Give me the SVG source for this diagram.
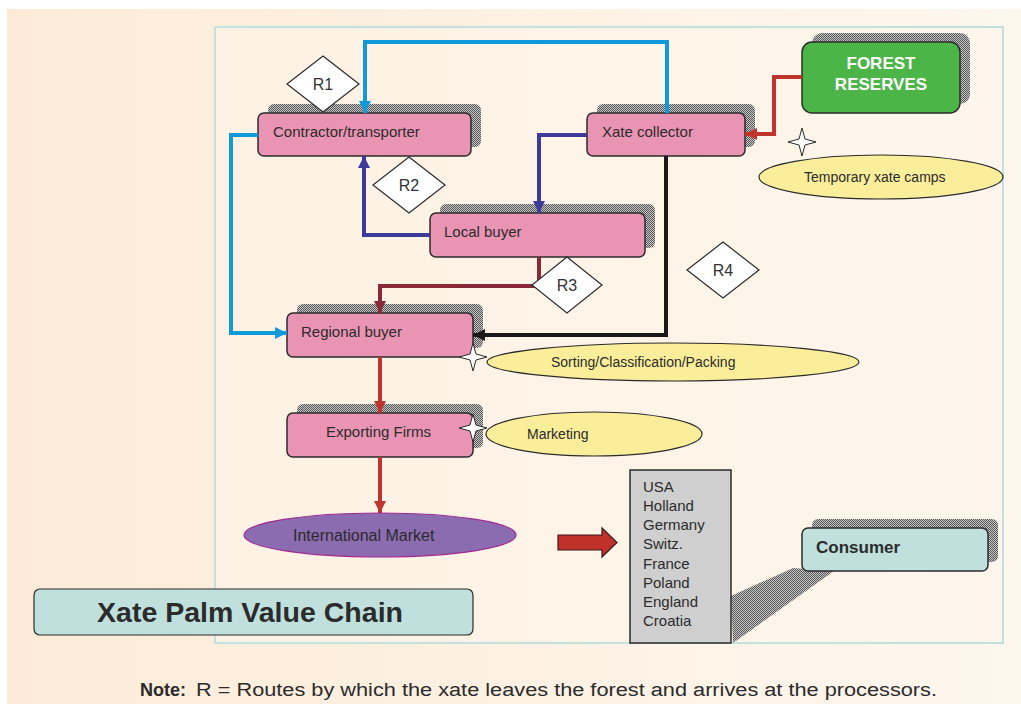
<svg xmlns="http://www.w3.org/2000/svg" width="1021" height="704" viewBox="0 0 1021 704">
<defs>
<linearGradient id="bg" x1="0" y1="0" x2="1" y2="0">
<stop offset="0" stop-color="#fdebd8"/>
<stop offset="1" stop-color="#fef7ee"/>
</linearGradient>
<pattern id="dots" width="2" height="2" patternUnits="userSpaceOnUse">
<rect width="2" height="2" fill="#c8c8c8"/>
<rect width="1" height="1" fill="#555"/>
<rect x="1" y="1" width="1" height="1" fill="#555"/>
</pattern>
<marker id="mBlue" viewBox="0 0 10 10" refX="10" refY="5" markerWidth="12" markerHeight="12" markerUnits="userSpaceOnUse" orient="auto"><path d="M0,0 L10,5 L0,10 z" fill="#119ad9"/></marker>
<marker id="mPurple" viewBox="0 0 10 10" refX="10" refY="5" markerWidth="12" markerHeight="12" markerUnits="userSpaceOnUse" orient="auto"><path d="M0,0 L10,5 L0,10 z" fill="#3d3a9a"/></marker>
<marker id="mDark" viewBox="0 0 10 10" refX="10" refY="5" markerWidth="12" markerHeight="12" markerUnits="userSpaceOnUse" orient="auto"><path d="M0,0 L10,5 L0,10 z" fill="#8a2a36"/></marker>
<marker id="mRed" viewBox="0 0 10 10" refX="10" refY="5" markerWidth="12" markerHeight="12" markerUnits="userSpaceOnUse" orient="auto"><path d="M0,0 L10,5 L0,10 z" fill="#c0342f"/></marker>
<marker id="mBlack" viewBox="0 0 10 10" refX="10" refY="5" markerWidth="12" markerHeight="12" markerUnits="userSpaceOnUse" orient="auto"><path d="M0,0 L10,5 L0,10 z" fill="#1a1a1a"/></marker>
<path id="star" d="M0,-14 L3,-3 L14,0 L3,3 L0,14 L-3,3 L-14,0 L-3,-3 Z"/>
</defs>
<style>
text{font-family:"Liberation Sans",Arial,sans-serif;fill:#2b2b2b}
.node{fill:#ea94b4;stroke:#2b2b2b;stroke-width:1.5}
.shadow{fill:url(#dots)}
.lbl{font-size:15px}
.ell{fill:#fbee9b;stroke:#2b2b2b;stroke-width:1.2}
.etxt{font-size:14px}
.dia{fill:#ffffff;stroke:#2b2b2b;stroke-width:1.2}
.dtxt{font-size:16px;text-anchor:middle;fill:#333}
.conn{fill:none;stroke-width:4}
.star{fill:#ffffff;stroke:#2b2b2b;stroke-width:1}
</style>
<rect x="0" y="0" width="1021" height="704" fill="#ffffff"/>
<rect x="7" y="9" width="1014" height="695" fill="url(#bg)"/>
<rect x="215" y="27" width="788" height="616" fill="#fef5ea" fill-opacity="0.5" stroke="#c3e2df" stroke-width="2"/>

<g id="forest-reserves">
<rect class="shadow" x="812" y="33" width="158" height="71" rx="10"/>
<rect x="802" y="42" width="158" height="71" rx="10" fill="#4bb548" stroke="#2b2b2b" stroke-width="1.5"/>
<text x="881" y="69" text-anchor="middle" font-size="17" font-weight="bold" style="fill:#ffffff">FOREST</text>
<text x="881" y="90" text-anchor="middle" font-size="17" font-weight="bold" style="fill:#ffffff">RESERVES</text>
</g>

<g id="contractor">
<rect class="shadow" x="268" y="104" width="213" height="43" rx="6"/>
<rect class="node" x="258" y="113" width="213" height="43" rx="6"/>
<text class="lbl" x="273" y="137">Contractor/transporter</text>
</g>

<g id="xate-collector">
<rect class="shadow" x="597" y="104" width="158" height="43" rx="6"/>
<rect class="node" x="587" y="113" width="158" height="43" rx="6"/>
<text class="lbl" x="602" y="137">Xate collector</text>
</g>

<g id="local-buyer">
<rect class="shadow" x="440" y="204" width="215" height="44" rx="6"/>
<rect class="node" x="430" y="213" width="215" height="44" rx="6"/>
<text class="lbl" x="444" y="237">Local buyer</text>
</g>

<g id="regional-buyer">
<rect class="shadow" x="297" y="304" width="186" height="44" rx="6"/>
<rect class="node" x="287" y="313" width="186" height="44" rx="6"/>
<text class="lbl" x="301" y="337">Regional buyer</text>
</g>

<g id="exporting-firms">
<rect class="shadow" x="297" y="404" width="186" height="44" rx="6"/>
<rect class="node" x="287" y="413" width="186" height="44" rx="6"/>
<text class="lbl" x="326" y="437">Exporting Firms</text>
</g>

<g id="connectors">
<path class="conn" stroke="#119ad9" d="M667,113 V42 H365 V113" marker-end="url(#mBlue)"/>
<path class="conn" stroke="#119ad9" d="M258,135 H231 V333 H287" marker-end="url(#mBlue)"/>
<path class="conn" stroke="#3d3a9a" d="M587,135 H539 V213" marker-end="url(#mPurple)"/>
<path class="conn" stroke="#3d3a9a" d="M430,235 H364 V156" marker-end="url(#mPurple)"/>
<path class="conn" stroke="#8a2a36" d="M539,257 V286 H380 V313" marker-end="url(#mDark)"/>
<path class="conn" stroke="#1a1a1a" d="M666,156 V335 H473" marker-end="url(#mBlack)"/>
<path class="conn" stroke="#c0342f" d="M802,77 H774 V134 H745" marker-end="url(#mRed)"/>
<path class="conn" stroke="#c0342f" d="M380,357 V413" marker-end="url(#mRed)"/>
<path class="conn" stroke="#c0342f" d="M380,457 V513" marker-end="url(#mRed)"/>
</g>

<g id="r1"><polygon class="dia" points="323,56 359,84 323,112 287,84"/><text class="dtxt" x="323" y="90">R1</text></g>
<g id="r2"><polygon class="dia" points="409,157 445,185 409,213 373,185"/><text class="dtxt" x="409" y="191">R2</text></g>
<g id="r3"><polygon class="dia" points="567,257 602,285 567,313 532,285"/><text class="dtxt" x="567" y="291">R3</text></g>
<g id="r4"><polygon class="dia" points="723,242 759,270 723,298 687,270"/><text class="dtxt" x="723" y="276">R4</text></g>

<g id="temporary-camps">
<ellipse class="ell" cx="881" cy="177" rx="122" ry="22"/>
<text class="etxt" x="804" y="182">Temporary xate camps</text>
<use href="#star" class="star" x="802" y="142"/>
</g>

<g id="sorting">
<ellipse class="ell" cx="673" cy="362" rx="186" ry="19"/>
<text class="etxt" x="551" y="367">Sorting/Classification/Packing</text>
<use href="#star" class="star" x="473" y="357"/>
</g>

<g id="marketing">
<ellipse class="ell" cx="594" cy="434" rx="108" ry="22"/>
<text class="etxt" x="527" y="439">Marketing</text>
<use href="#star" class="star" x="473" y="428"/>
</g>

<g id="international-market">
<ellipse cx="380" cy="535" rx="136" ry="22" fill="#8b6cb1" stroke="#a0288f" stroke-width="1.2"/>
<text x="293" y="541" font-size="16">International Market</text>
</g>

<g id="block-arrow">
<polygon points="558,535 602,535 602,528 617,542.5 602,557 602,550 558,550" fill="#c0312b" stroke="#3a1a1a" stroke-width="1.2"/>
</g>

<g id="consumer-shadow">
<polygon class="shadow" points="731,596 793,568 834,571 733,643"/>
</g>

<g id="countries">
<rect x="630" y="470" width="101" height="173" fill="#cfcfcf" stroke="#2b2b2b" stroke-width="1.5"/>
<text x="643" y="492" font-size="15">USA</text>
<text x="643" y="511.1" font-size="15">Holland</text>
<text x="643" y="530.3" font-size="15">Germany</text>
<text x="643" y="549.4" font-size="15">Switz.</text>
<text x="643" y="568.6" font-size="15">France</text>
<text x="643" y="587.7" font-size="15">Poland</text>
<text x="643" y="606.9" font-size="15">England</text>
<text x="643" y="626" font-size="15">Croatia</text>
</g>

<g id="consumer">
<rect class="shadow" x="812" y="519" width="186" height="43" rx="6"/>
<rect x="802" y="528" width="186" height="43" rx="6" fill="#c0e0dd" stroke="#2b2b2b" stroke-width="1.5"/>
<text x="816" y="553" font-size="17" font-weight="bold">Consumer</text>
</g>

<g id="title">
<rect x="34" y="589" width="439" height="46" rx="6" fill="#c0e0dd" stroke="#2b2b2b" stroke-width="1.2"/>
<text x="97" y="622" font-size="28" font-weight="bold" textLength="306" lengthAdjust="spacingAndGlyphs">Xate Palm Value Chain</text>
</g>

<g id="note">
<text x="140" y="696" font-size="18"><tspan font-weight="bold">Note:</tspan> <tspan textLength="741" lengthAdjust="spacingAndGlyphs" x="196">R = Routes by which the xate leaves the forest and arrives at the processors.</tspan></text>
</g>
</svg>
